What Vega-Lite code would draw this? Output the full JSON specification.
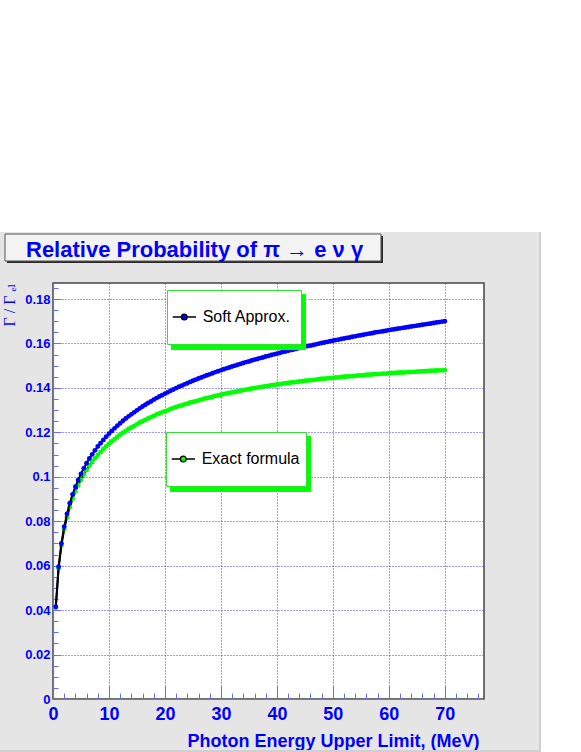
{
"$schema": "https://vega.github.io/schema/vega-lite/v6.json",
"width": 431, "height": 416,
"autosize": "none",
"padding": {"left": 53, "top": 283, "right": 97, "bottom": 53},
"background": "#e5e5e5",
"config": {"view": {"fill": "white", "stroke": "#444444", "strokeWidth": 1.5}},
"datasets": {
"soft": [
{"series":"Soft Approx.","E":0.5,"R":0.0415},{"series":"Soft Approx.","E":1,"R":0.0595},{"series":"Soft Approx.","E":1.5,"R":0.0700},{"series":"Soft Approx.","E":2,"R":0.0775},{"series":"Soft Approx.","E":2.5,"R":0.0833},{"series":"Soft Approx.","E":3,"R":0.0881},{"series":"Soft Approx.","E":3.5,"R":0.0921},{"series":"Soft Approx.","E":4,"R":0.0955},{"series":"Soft Approx.","E":4.5,"R":0.0986},{"series":"Soft Approx.","E":5,"R":0.1013},
{"series":"Soft Approx.","E":5.5,"R":0.1038},{"series":"Soft Approx.","E":6,"R":0.1061},{"series":"Soft Approx.","E":6.5,"R":0.1082},{"series":"Soft Approx.","E":7,"R":0.1101},{"series":"Soft Approx.","E":7.5,"R":0.1119},{"series":"Soft Approx.","E":8,"R":0.1136},{"series":"Soft Approx.","E":8.5,"R":0.1151},{"series":"Soft Approx.","E":9,"R":0.1166},{"series":"Soft Approx.","E":9.5,"R":0.1180},{"series":"Soft Approx.","E":10,"R":0.1194},
{"series":"Soft Approx.","E":10.5,"R":0.1206},{"series":"Soft Approx.","E":11,"R":0.1218},{"series":"Soft Approx.","E":11.5,"R":0.1230},{"series":"Soft Approx.","E":12,"R":0.1241},{"series":"Soft Approx.","E":12.5,"R":0.1252},{"series":"Soft Approx.","E":13,"R":0.1262},{"series":"Soft Approx.","E":13.5,"R":0.1272},{"series":"Soft Approx.","E":14,"R":0.1281},{"series":"Soft Approx.","E":14.5,"R":0.1290},{"series":"Soft Approx.","E":15,"R":0.1299},
{"series":"Soft Approx.","E":15.5,"R":0.1308},{"series":"Soft Approx.","E":16,"R":0.1316},{"series":"Soft Approx.","E":16.5,"R":0.1324},{"series":"Soft Approx.","E":17,"R":0.1332},{"series":"Soft Approx.","E":17.5,"R":0.1339},{"series":"Soft Approx.","E":18,"R":0.1347},{"series":"Soft Approx.","E":18.5,"R":0.1354},{"series":"Soft Approx.","E":19,"R":0.1361},{"series":"Soft Approx.","E":19.5,"R":0.1367},{"series":"Soft Approx.","E":20,"R":0.1374},
{"series":"Soft Approx.","E":20.5,"R":0.1380},{"series":"Soft Approx.","E":21,"R":0.1387},{"series":"Soft Approx.","E":21.5,"R":0.1393},{"series":"Soft Approx.","E":22,"R":0.1399},{"series":"Soft Approx.","E":22.5,"R":0.1405},{"series":"Soft Approx.","E":23,"R":0.1410},{"series":"Soft Approx.","E":23.5,"R":0.1416},{"series":"Soft Approx.","E":24,"R":0.1421},{"series":"Soft Approx.","E":24.5,"R":0.1427},{"series":"Soft Approx.","E":25,"R":0.1432},
{"series":"Soft Approx.","E":25.5,"R":0.1437},{"series":"Soft Approx.","E":26,"R":0.1442},{"series":"Soft Approx.","E":26.5,"R":0.1447},{"series":"Soft Approx.","E":27,"R":0.1452},{"series":"Soft Approx.","E":27.5,"R":0.1457},{"series":"Soft Approx.","E":28,"R":0.1461},{"series":"Soft Approx.","E":28.5,"R":0.1466},{"series":"Soft Approx.","E":29,"R":0.1471},{"series":"Soft Approx.","E":29.5,"R":0.1475},{"series":"Soft Approx.","E":30,"R":0.1479},
{"series":"Soft Approx.","E":30.5,"R":0.1484},{"series":"Soft Approx.","E":31,"R":0.1488},{"series":"Soft Approx.","E":31.5,"R":0.1492},{"series":"Soft Approx.","E":32,"R":0.1496},{"series":"Soft Approx.","E":32.5,"R":0.1500},{"series":"Soft Approx.","E":33,"R":0.1504},{"series":"Soft Approx.","E":33.5,"R":0.1508},{"series":"Soft Approx.","E":34,"R":0.1512},{"series":"Soft Approx.","E":34.5,"R":0.1516},{"series":"Soft Approx.","E":35,"R":0.1519},
{"series":"Soft Approx.","E":35.5,"R":0.1523},{"series":"Soft Approx.","E":36,"R":0.1527},{"series":"Soft Approx.","E":36.5,"R":0.1530},{"series":"Soft Approx.","E":37,"R":0.1534},{"series":"Soft Approx.","E":37.5,"R":0.1537},{"series":"Soft Approx.","E":38,"R":0.1541},{"series":"Soft Approx.","E":38.5,"R":0.1544},{"series":"Soft Approx.","E":39,"R":0.1548},{"series":"Soft Approx.","E":39.5,"R":0.1551},{"series":"Soft Approx.","E":40,"R":0.1554},
{"series":"Soft Approx.","E":40.5,"R":0.1557},{"series":"Soft Approx.","E":41,"R":0.1561},{"series":"Soft Approx.","E":41.5,"R":0.1564},{"series":"Soft Approx.","E":42,"R":0.1567},{"series":"Soft Approx.","E":42.5,"R":0.1570},{"series":"Soft Approx.","E":43,"R":0.1573},{"series":"Soft Approx.","E":43.5,"R":0.1576},{"series":"Soft Approx.","E":44,"R":0.1579},{"series":"Soft Approx.","E":44.5,"R":0.1582},{"series":"Soft Approx.","E":45,"R":0.1585},
{"series":"Soft Approx.","E":45.5,"R":0.1588},{"series":"Soft Approx.","E":46,"R":0.1590},{"series":"Soft Approx.","E":46.5,"R":0.1593},{"series":"Soft Approx.","E":47,"R":0.1596},{"series":"Soft Approx.","E":47.5,"R":0.1599},{"series":"Soft Approx.","E":48,"R":0.1602},{"series":"Soft Approx.","E":48.5,"R":0.1604},{"series":"Soft Approx.","E":49,"R":0.1607},{"series":"Soft Approx.","E":49.5,"R":0.1610},{"series":"Soft Approx.","E":50,"R":0.1612},
{"series":"Soft Approx.","E":50.5,"R":0.1615},{"series":"Soft Approx.","E":51,"R":0.1617},{"series":"Soft Approx.","E":51.5,"R":0.1620},{"series":"Soft Approx.","E":52,"R":0.1622},{"series":"Soft Approx.","E":52.5,"R":0.1625},{"series":"Soft Approx.","E":53,"R":0.1627},{"series":"Soft Approx.","E":53.5,"R":0.1630},{"series":"Soft Approx.","E":54,"R":0.1632},{"series":"Soft Approx.","E":54.5,"R":0.1635},{"series":"Soft Approx.","E":55,"R":0.1637},
{"series":"Soft Approx.","E":55.5,"R":0.1639},{"series":"Soft Approx.","E":56,"R":0.1642},{"series":"Soft Approx.","E":56.5,"R":0.1644},{"series":"Soft Approx.","E":57,"R":0.1646},{"series":"Soft Approx.","E":57.5,"R":0.1649},{"series":"Soft Approx.","E":58,"R":0.1651},{"series":"Soft Approx.","E":58.5,"R":0.1653},{"series":"Soft Approx.","E":59,"R":0.1655},{"series":"Soft Approx.","E":59.5,"R":0.1657},{"series":"Soft Approx.","E":60,"R":0.1660},
{"series":"Soft Approx.","E":60.5,"R":0.1662},{"series":"Soft Approx.","E":61,"R":0.1664},{"series":"Soft Approx.","E":61.5,"R":0.1666},{"series":"Soft Approx.","E":62,"R":0.1668},{"series":"Soft Approx.","E":62.5,"R":0.1670},{"series":"Soft Approx.","E":63,"R":0.1672},{"series":"Soft Approx.","E":63.5,"R":0.1674},{"series":"Soft Approx.","E":64,"R":0.1676},{"series":"Soft Approx.","E":64.5,"R":0.1678},{"series":"Soft Approx.","E":65,"R":0.1680},
{"series":"Soft Approx.","E":65.5,"R":0.1682},{"series":"Soft Approx.","E":66,"R":0.1684},{"series":"Soft Approx.","E":66.5,"R":0.1686},{"series":"Soft Approx.","E":67,"R":0.1688},{"series":"Soft Approx.","E":67.5,"R":0.1690},{"series":"Soft Approx.","E":68,"R":0.1692},{"series":"Soft Approx.","E":68.5,"R":0.1694},{"series":"Soft Approx.","E":69,"R":0.1696},{"series":"Soft Approx.","E":69.5,"R":0.1698},{"series":"Soft Approx.","E":70,"R":0.1700}
],
"exact": [
{"series":"Exact formula","E":0.5,"R":0.0411},{"series":"Exact formula","E":1,"R":0.0588},{"series":"Exact formula","E":1.5,"R":0.0690},{"series":"Exact formula","E":2,"R":0.0763},{"series":"Exact formula","E":2.5,"R":0.0818},{"series":"Exact formula","E":3,"R":0.0864},{"series":"Exact formula","E":3.5,"R":0.0902},{"series":"Exact formula","E":4,"R":0.0934},{"series":"Exact formula","E":4.5,"R":0.0963},{"series":"Exact formula","E":5,"R":0.0987},
{"series":"Exact formula","E":5.5,"R":0.1010},{"series":"Exact formula","E":6,"R":0.1031},{"series":"Exact formula","E":6.5,"R":0.1050},{"series":"Exact formula","E":7,"R":0.1067},{"series":"Exact formula","E":7.5,"R":0.1083},{"series":"Exact formula","E":8,"R":0.1098},{"series":"Exact formula","E":8.5,"R":0.1112},{"series":"Exact formula","E":9,"R":0.1125},{"series":"Exact formula","E":9.5,"R":0.1137},{"series":"Exact formula","E":10,"R":0.1149},
{"series":"Exact formula","E":10.5,"R":0.1159},{"series":"Exact formula","E":11,"R":0.1169},{"series":"Exact formula","E":11.5,"R":0.1180},{"series":"Exact formula","E":12,"R":0.1189},{"series":"Exact formula","E":12.5,"R":0.1198},{"series":"Exact formula","E":13,"R":0.1206},{"series":"Exact formula","E":13.5,"R":0.1215},{"series":"Exact formula","E":14,"R":0.1222},{"series":"Exact formula","E":14.5,"R":0.1229},{"series":"Exact formula","E":15,"R":0.1236},
{"series":"Exact formula","E":15.5,"R":0.1244},{"series":"Exact formula","E":16,"R":0.1250},{"series":"Exact formula","E":16.5,"R":0.1256},{"series":"Exact formula","E":17,"R":0.1263},{"series":"Exact formula","E":17.5,"R":0.1268},{"series":"Exact formula","E":18,"R":0.1274},{"series":"Exact formula","E":18.5,"R":0.1280},{"series":"Exact formula","E":19,"R":0.1285},{"series":"Exact formula","E":19.5,"R":0.1290},{"series":"Exact formula","E":20,"R":0.1295},
{"series":"Exact formula","E":20.5,"R":0.1299},{"series":"Exact formula","E":21,"R":0.1305},{"series":"Exact formula","E":21.5,"R":0.1309},{"series":"Exact formula","E":22,"R":0.1314},{"series":"Exact formula","E":22.5,"R":0.1318},{"series":"Exact formula","E":23,"R":0.1321},{"series":"Exact formula","E":23.5,"R":0.1326},{"series":"Exact formula","E":24,"R":0.1329},{"series":"Exact formula","E":24.5,"R":0.1334},{"series":"Exact formula","E":25,"R":0.1337},
{"series":"Exact formula","E":25.5,"R":0.1340},{"series":"Exact formula","E":26,"R":0.1344},{"series":"Exact formula","E":26.5,"R":0.1347},{"series":"Exact formula","E":27,"R":0.1351},{"series":"Exact formula","E":27.5,"R":0.1354},{"series":"Exact formula","E":28,"R":0.1357},{"series":"Exact formula","E":28.5,"R":0.1360},{"series":"Exact formula","E":29,"R":0.1364},{"series":"Exact formula","E":29.5,"R":0.1366},{"series":"Exact formula","E":30,"R":0.1369},
{"series":"Exact formula","E":30.5,"R":0.1372},{"series":"Exact formula","E":31,"R":0.1375},{"series":"Exact formula","E":31.5,"R":0.1377},{"series":"Exact formula","E":32,"R":0.1380},{"series":"Exact formula","E":32.5,"R":0.1382},{"series":"Exact formula","E":33,"R":0.1385},{"series":"Exact formula","E":33.5,"R":0.1387},{"series":"Exact formula","E":34,"R":0.1390},{"series":"Exact formula","E":34.5,"R":0.1392},{"series":"Exact formula","E":35,"R":0.1394},
{"series":"Exact formula","E":35.5,"R":0.1397},{"series":"Exact formula","E":36,"R":0.1399},{"series":"Exact formula","E":36.5,"R":0.1401},{"series":"Exact formula","E":37,"R":0.1403},{"series":"Exact formula","E":37.5,"R":0.1405},{"series":"Exact formula","E":38,"R":0.1408},{"series":"Exact formula","E":38.5,"R":0.1409},{"series":"Exact formula","E":39,"R":0.1412},{"series":"Exact formula","E":39.5,"R":0.1413},{"series":"Exact formula","E":40,"R":0.1415},
{"series":"Exact formula","E":40.5,"R":0.1416},{"series":"Exact formula","E":41,"R":0.1419},{"series":"Exact formula","E":41.5,"R":0.1421},{"series":"Exact formula","E":42,"R":0.1422},{"series":"Exact formula","E":42.5,"R":0.1424},{"series":"Exact formula","E":43,"R":0.1425},{"series":"Exact formula","E":43.5,"R":0.1427},{"series":"Exact formula","E":44,"R":0.1429},{"series":"Exact formula","E":44.5,"R":0.1430},{"series":"Exact formula","E":45,"R":0.1432},
{"series":"Exact formula","E":45.5,"R":0.1433},{"series":"Exact formula","E":46,"R":0.1434},{"series":"Exact formula","E":46.5,"R":0.1436},{"series":"Exact formula","E":47,"R":0.1437},{"series":"Exact formula","E":47.5,"R":0.1439},{"series":"Exact formula","E":48,"R":0.1441},{"series":"Exact formula","E":48.5,"R":0.1441},{"series":"Exact formula","E":49,"R":0.1443},{"series":"Exact formula","E":49.5,"R":0.1444},{"series":"Exact formula","E":50,"R":0.1445},
{"series":"Exact formula","E":50.5,"R":0.1447},{"series":"Exact formula","E":51,"R":0.1447},{"series":"Exact formula","E":51.5,"R":0.1449},{"series":"Exact formula","E":52,"R":0.1450},{"series":"Exact formula","E":52.5,"R":0.1451},{"series":"Exact formula","E":53,"R":0.1452},{"series":"Exact formula","E":53.5,"R":0.1453},{"series":"Exact formula","E":54,"R":0.1454},{"series":"Exact formula","E":54.5,"R":0.1456},{"series":"Exact formula","E":55,"R":0.1456},
{"series":"Exact formula","E":55.5,"R":0.1457},{"series":"Exact formula","E":56,"R":0.1459},{"series":"Exact formula","E":56.5,"R":0.1459},{"series":"Exact formula","E":57,"R":0.1460},{"series":"Exact formula","E":57.5,"R":0.1462},{"series":"Exact formula","E":58,"R":0.1462},{"series":"Exact formula","E":58.5,"R":0.1463},{"series":"Exact formula","E":59,"R":0.1464},{"series":"Exact formula","E":59.5,"R":0.1464},{"series":"Exact formula","E":60,"R":0.1466},
{"series":"Exact formula","E":60.5,"R":0.1467},{"series":"Exact formula","E":61,"R":0.1467},{"series":"Exact formula","E":61.5,"R":0.1468},{"series":"Exact formula","E":62,"R":0.1469},{"series":"Exact formula","E":62.5,"R":0.1469},{"series":"Exact formula","E":63,"R":0.1470},{"series":"Exact formula","E":63.5,"R":0.1471},{"series":"Exact formula","E":64,"R":0.1472},{"series":"Exact formula","E":64.5,"R":0.1472},{"series":"Exact formula","E":65,"R":0.1473},
{"series":"Exact formula","E":65.5,"R":0.1474},{"series":"Exact formula","E":66,"R":0.1474},{"series":"Exact formula","E":66.5,"R":0.1475},{"series":"Exact formula","E":67,"R":0.1476},{"series":"Exact formula","E":67.5,"R":0.1477},{"series":"Exact formula","E":68,"R":0.1477},{"series":"Exact formula","E":68.5,"R":0.1478},{"series":"Exact formula","E":69,"R":0.1479},{"series":"Exact formula","E":69.5,"R":0.1479},{"series":"Exact formula","E":70,"R":0.1480}
]
},
"layer": [
{"data": {"values": [{}]}, "mark": {"type": "rect", "color": "white"},
 "encoding": {"x": {"datum": -9.469, "type": "quantitative", "scale": {"domain": [0, 77], "nice": false, "zero": false}}, "x2": {"datum": 94.33},
  "y": {"datum": 0.31455, "type": "quantitative", "scale": {"domain": [0, 0.1872], "nice": false, "zero": false}}, "y2": {"datum": 0.21015}}},
{"data": {"values": [{}]}, "mark": {"type": "rect", "color": "white"},
 "encoding": {"x": {"datum": 87.183, "type": "quantitative", "scale": {"domain": [0, 77], "nice": false, "zero": false}}, "x2": {"datum": 94.33},
  "y": {"datum": 0.21015, "type": "quantitative", "scale": {"domain": [0, 0.1872], "nice": false, "zero": false}}, "y2": {"datum": -0.02385}}},
{"data": {"values": [{}]}, "mark": {"type": "rect", "color": "#d0d0d0"},
 "encoding": {"x": {"datum": 86.826, "type": "quantitative", "scale": {"domain": [0, 77], "nice": false, "zero": false}}, "x2": {"datum": 87.183},
  "y": {"datum": 0.21015, "type": "quantitative", "scale": {"domain": [0, 0.1872], "nice": false, "zero": false}}, "y2": {"datum": -0.02385}}},
{"data": {"values": [{}]}, "mark": {"type": "rect", "color": "#d0d0d0"},
 "encoding": {"x": {"datum": -9.469, "type": "quantitative", "scale": {"domain": [0, 77], "nice": false, "zero": false}}, "x2": {"datum": 87.183},
  "y": {"datum": -0.02295, "type": "quantitative", "scale": {"domain": [0, 0.1872], "nice": false, "zero": false}}, "y2": {"datum": -0.02385}}},
{"data": {"values": [{}]}, "mark": {"type": "rect", "color": "#2a2a2a"},
 "encoding": {"x": {"datum": -8.2181, "type": "quantitative", "scale": {"domain": [0, 77], "nice": false, "zero": false}}, "x2": {"datum": 58.9558},
  "y": {"datum": 0.20835, "type": "quantitative", "scale": {"domain": [0, 0.1872], "nice": false, "zero": false}}, "y2": {"datum": 0.1962}}},
{"data": {"values": [{}]}, "mark": {"type": "rect", "fill": "#f3f3f3", "stroke": "#555555", "strokeWidth": 1},
 "encoding": {"x": {"datum": -8.5754, "type": "quantitative", "scale": {"domain": [0, 77], "nice": false, "zero": false}}, "x2": {"datum": 58.5985},
  "y": {"datum": 0.20925, "type": "quantitative", "scale": {"domain": [0, 0.1872], "nice": false, "zero": false}}, "y2": {"datum": 0.1971}}},
{"data": {"values": [{}]}, "mark": {"type": "text", "text": "Relative Probability of π → e ν γ", "align": "left", "baseline": "alphabetic", "font": "Liberation Sans", "fontWeight": "bold", "fontSize": 22, "color": "#0000ff"},
 "encoding": {"x": {"datum": -4.8237, "type": "quantitative", "scale": {"domain": [0, 77], "nice": false, "zero": false}},
  "y": {"datum": 0.1989, "type": "quantitative", "scale": {"domain": [0, 0.1872], "nice": false, "zero": false}}}},
{"data": {"name": "exact"}, "mark": {"type": "line", "color": "black", "strokeWidth": 2},
 "encoding": {
  "x": {"field": "E", "type": "quantitative", "scale": {"domain": [0, 77], "nice": false, "zero": false},
   "axis": {"values": [0,2,4,6,8,10,12,14,16,18,20,22,24,26,28,30,32,34,36,38,40,42,44,46,48,50,52,54,56,58,60,62,64,66,68,70,72,74,76],
    "tickCount": 200, "format": "d", "labelExpr": "datum.value % 10 === 0 ? datum.label : ''",
    "tickSize": {"condition": {"test": "datum.value % 10 === 0", "value": -13}, "value": -6},
    "labelPadding": 19, "grid": true,
    "gridOpacity": {"condition": {"test": "datum.value % 10 === 0", "value": 1}, "value": 0},
    "gridColor": "#3535ff", "gridDash": [1, 2], "gridWidth": 1,
    "domainColor": "#6b6bff", "domainWidth": 1.2, "tickColor": "#6b6bff", "tickWidth": 1,
    "labelFont": "Liberation Sans", "labelFontWeight": "bold", "labelFontSize": 18, "labelColor": "#0000ff",
    "labelOverlap": false, "labelFlush": false, "labelBound": false,
    "title": "Photon Energy Upper Limit, (MeV)", "titleFont": "Liberation Sans", "titleFontWeight": "bold", "titleFontSize": 18, "titleColor": "#0000ff",
    "titleAnchor": "end", "titleAlign": "right", "titleBaseline": "alphabetic", "titleX": 426, "titleY": 47}},
  "y": {"field": "R", "type": "quantitative", "scale": {"domain": [0, 0.1872], "nice": false, "zero": false},
   "axis": {"values": [0,0.005,0.01,0.015,0.02,0.025,0.03,0.035,0.04,0.045,0.05,0.055,0.06,0.065,0.07,0.075,0.08,0.085,0.09,0.095,0.1,0.105,0.11,0.115,0.12,0.125,0.13,0.135,0.14,0.145,0.15,0.155,0.16,0.165,0.17,0.175,0.18,0.185],
    "tickCount": 200, "labelExpr": "round(datum.value*1000) % 20 === 0 ? format(datum.value, '~g') : ''",
    "tickSize": {"condition": {"test": "round(datum.value*1000) % 20 === 0", "value": -8}, "value": -5},
    "labelPadding": 11, "grid": true,
    "gridOpacity": {"condition": {"test": "round(datum.value*1000) % 20 === 0", "value": 1}, "value": 0},
    "gridColor": "#3535ff", "gridDash": [1, 2], "gridWidth": 1,
    "domainColor": "#6b6bff", "domainWidth": 1.2, "tickColor": "#6b6bff", "tickWidth": 1,
    "labelFont": "Liberation Sans", "labelFontWeight": "bold", "labelFontSize": 13, "labelColor": "#0000ff",
    "labelOverlap": false, "labelFlush": false, "labelBound": false,
    "title": "Γ / Γ ₑₗ", "titleFont": "Liberation Serif, DejaVu Serif", "titleFontWeight": "normal", "titleFontSize": 16, "titleColor": "#0000ff",
    "titleAngle": 270, "titleAlign": "right", "titleBaseline": "alphabetic", "titleX": -38.5, "titleY": 0}}}},
{"data": {"name": "exact"}, "mark": {"type": "point", "filled": true, "size": 24, "opacity": 1, "strokeWidth": 0},
 "encoding": {
  "x": {"field": "E", "type": "quantitative", "scale": {"domain": [0, 77], "nice": false, "zero": false}},
  "y": {"field": "R", "type": "quantitative", "scale": {"domain": [0, 0.1872], "nice": false, "zero": false}},
  "fill": {"field": "series", "type": "nominal", "scale": {"domain": ["Exact formula"], "range": ["#00ff00"]},
   "legend": {"title": null, "orient": "none", "legendX": 113, "legendY": 149, "padding": 5, "fillColor": "white", "strokeColor": "#33e033",
    "symbolType": "M0,-0.905M0,0.905M5.0,0M-1.014,0H-0.6M-0.324,0H0.095M-0.324,0A0.138,0.138,0,1,1,-0.6,0A0.138,0.138,0,1,1,-0.324,0Z", "symbolSize": 1764,
    "symbolStrokeColor": "black", "symbolStrokeWidth": 1.3,
    "labelFont": "Liberation Sans", "labelFontSize": 16, "labelColor": "black", "labelOffset": -13.3, "zindex": 2,
    "encode": {"symbols": {"stroke": {"value": "black"}, "strokeWidth": {"value": 1.3}, "opacity": {"value": 1}}}}},
  "opacity": {"field": "series", "type": "nominal", "scale": {"range": [1]},
   "legend": {"title": null, "orient": "none", "legendX": 117, "legendY": 153, "padding": 5, "fillColor": "#00ff00", "strokeColor": "#00ff00",
    "symbolType": "M0,-0.905M0,0.905M5.0,0M-1.014,0H0.095", "symbolSize": 1764, "labelExpr": "''",
    "labelFont": "Liberation Sans", "labelFontSize": 16, "labelOffset": -13.3, "zindex": 1,
    "encode": {"symbols": {"fill": {"value": "#00ff00"}, "stroke": {"value": "#00ff00"}, "strokeWidth": {"value": 1.3}, "opacity": {"value": 1}}}}}}},
{"data": {"name": "soft"}, "mark": {"type": "line", "color": "black", "strokeWidth": 2},
 "encoding": {
  "x": {"field": "E", "type": "quantitative", "scale": {"domain": [0, 77], "nice": false, "zero": false}},
  "y": {"field": "R", "type": "quantitative", "scale": {"domain": [0, 0.1872], "nice": false, "zero": false}}}},
{"data": {"name": "soft"}, "mark": {"type": "point", "filled": true, "size": 24, "opacity": 1, "strokeWidth": 0},
 "encoding": {
  "x": {"field": "E", "type": "quantitative", "scale": {"domain": [0, 77], "nice": false, "zero": false}},
  "y": {"field": "R", "type": "quantitative", "scale": {"domain": [0, 0.1872], "nice": false, "zero": false}},
  "fill": {"field": "series", "type": "nominal", "scale": {"domain": ["Soft Approx."], "range": ["#0000ff"]},
   "legend": {"title": null, "orient": "none", "legendX": 114, "legendY": 7, "padding": 5, "fillColor": "white", "strokeColor": "#33e033",
    "symbolType": "M0,-0.905M0,0.905M4.71,0M-1.014,0H-0.6M-0.324,0H0.095M-0.324,0A0.138,0.138,0,1,1,-0.6,0A0.138,0.138,0,1,1,-0.324,0Z", "symbolSize": 1764,
    "symbolStrokeColor": "black", "symbolStrokeWidth": 1.3,
    "labelFont": "Liberation Sans", "labelFontSize": 16, "labelColor": "black", "labelOffset": -13.3, "zindex": 2,
    "encode": {"symbols": {"stroke": {"value": "black"}, "strokeWidth": {"value": 1.3}, "opacity": {"value": 1}}}}},
  "opacity": {"field": "series", "type": "nominal", "scale": {"range": [1]},
   "legend": {"title": null, "orient": "none", "legendX": 118, "legendY": 11, "padding": 5, "fillColor": "#00ff00", "strokeColor": "#00ff00",
    "symbolType": "M0,-0.905M0,0.905M4.71,0M-1.014,0H0.095", "symbolSize": 1764, "labelExpr": "''",
    "labelFont": "Liberation Sans", "labelFontSize": 16, "labelOffset": -13.3, "zindex": 1,
    "encode": {"symbols": {"fill": {"value": "#00ff00"}, "stroke": {"value": "#00ff00"}, "strokeWidth": {"value": 1.3}, "opacity": {"value": 1}}}}}}}
],
"resolve": {"scale": {"fill": "independent", "opacity": "independent"}, "legend": {"fill": "independent", "opacity": "independent"}}
}
